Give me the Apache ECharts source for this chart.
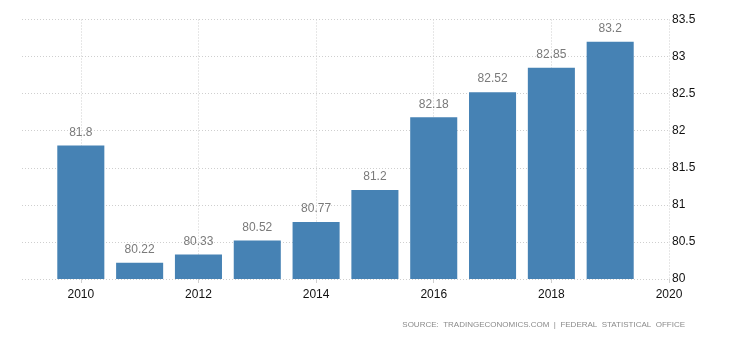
<!DOCTYPE html>
<html>
<head>
<meta charset="utf-8">
<script src="https://cdn.jsdelivr.net/npm/echarts@6/dist/echarts.min.js"></script>
<style>
  html, body { margin: 0; padding: 0; background: #fff; }
  #chart { width: 730px; height: 340px; }
</style>
</head>
<body>
<div id="chart"></div>
<script>
// Axis years: one slot of padding before the first bar and the closing 2020 tick
const years = ['2009', '2010', '2011', '2012', '2013', '2014', '2015', '2016', '2017', '2018', '2019', '2020'];
// Annual values, 2010 to 2019
const barYears = ['2010', '2011', '2012', '2013', '2014', '2015', '2016', '2017', '2018', '2019'];
const values = [81.8, 80.22, 80.33, 80.52, 80.77, 81.2, 82.18, 82.52, 82.85, 83.2];
// Right-hand value axis
const yMin = 80, yMax = 83.5, yStep = 0.5;
const sourceText = 'SOURCE:  TRADINGECONOMICS.COM  |  FEDERAL  STATISTICAL  OFFICE';

const FONT = '"Liberation Sans", Arial, sans-serif';
const seriesData = years.map(y => {
  const i = barYears.indexOf(y);
  return i >= 0 ? values[i] : null;
});
const evenYear = (idx, val) => Number(val) % 2 === 0;
const dotted = { color: '#cfcfcf', width: 1, type: [1, 2] };

const chart = echarts.init(document.getElementById('chart'), null, { renderer: 'canvas' });
chart.setOption({
  animation: false,
  backgroundColor: '#ffffff',
  grid: { left: 22, right: 61, top: 19.5, bottom: 61, containLabel: false },
  xAxis: {
    type: 'category',
    data: years,
    boundaryGap: false,
    axisLine: { show: false },
    axisTick: { show: true, interval: evenYear, length: 4, lineStyle: { color: '#cfcfcf' } },
    axisLabel: { interval: evenYear, margin: 10, color: '#111', fontSize: 12, fontFamily: FONT },
    splitLine: { show: true, interval: evenYear, lineStyle: dotted }
  },
  yAxis: {
    type: 'value',
    position: 'right',
    min: yMin, max: yMax, interval: yStep,
    axisLine: { show: false },
    axisTick: { show: false },
    axisLabel: { margin: 3, color: '#111', fontSize: 12, fontFamily: FONT },
    splitLine: { show: true, lineStyle: dotted }
  },
  series: [{
    type: 'bar',
    data: seriesData,
    barWidth: '80%',
    itemStyle: { color: '#4682b4' },
    label: {
      show: true,
      position: 'top',
      distance: 7,
      color: '#7a7a7a',
      fontSize: 12,
      fontFamily: FONT
    }
  }],
  graphic: [{
    type: 'text',
    right: 45,
    top: 321,
    style: {
      text: sourceText,
      fill: '#8a8a8a',
      font: '8px "Liberation Sans", Arial, sans-serif'
    }
  }]
});
</script>
</body>
</html>
